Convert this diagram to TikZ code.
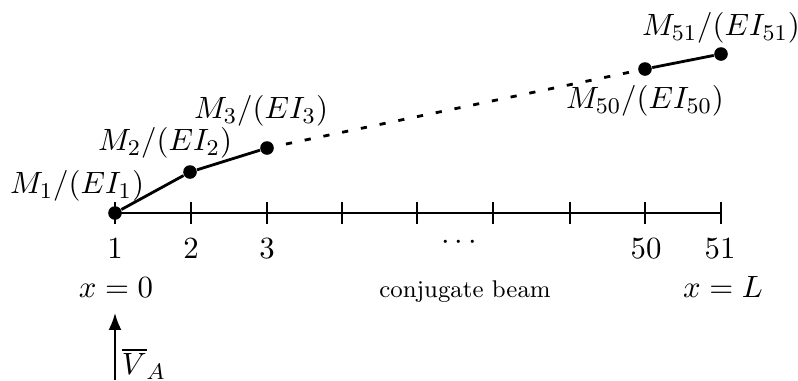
\documentclass[tikz,border=0pt]{standalone}
\usetikzlibrary{arrows.meta}
\begin{document}
\begin{tikzpicture}[x=0.0125cm, y=-0.0125cm,
    dot/.style={circle, fill, minimum size=1.7mm, inner sep=0pt},
    lbl/.style={font=\fontsize{11}{13}\selectfont, inner sep=0pt},
    num/.style={lbl, anchor=base},
    beam/.style={line width=1pt},
    tickmark/.style={line width=1pt},
    gapline/.style={line width=1pt, dash pattern=on 2.2pt off 4.6pt}]
    \useasboundingbox (0,0) rectangle (798,380);
    % beam axis
    \coordinate (t1) at (115,213);
    \coordinate (t2) at (191,213);
    \coordinate (t3) at (267,213);
    \coordinate (t4) at (342,213);
    \coordinate (t5) at (417,213);
    \coordinate (t6) at (493,213);
    \coordinate (t7) at (570,213);
    \coordinate (t8) at (645,213);
    \coordinate (t9) at (721,213);
    \draw[beam] (t1) -- (t9);
    \foreach \t in {t1,t2,t3,t4,t5,t6,t7,t8,t9}
      \draw[tickmark] (\t) +(0,-11) -- +(0,11);
    % M/EI points
    \node[dot] (P1)  at (115,213) {};
    \node[dot] (P2)  at (190,172) {};
    \node[dot] (P3)  at (267,148) {};
    \node[dot] (P50) at (645,69)  {};
    \node[dot] (P51) at (721,54)  {};
    \draw[beam] (P1) -- (P2) -- (P3);
    \draw[gapline, shorten <=1.5mm] (P3) -- (P50);
    \draw[beam] (P50) -- (P51);
    \node[lbl] (m1)  at (77,186)  {$M_1/(EI_1)$};
    \node[lbl] (m2)  at (165,143) {$M_2/(EI_2)$};
    \node[lbl] (m3)  at (261,111) {$M_3/(EI_3)$};
    \node[lbl] (m50) at (645,101) {$M_{50}/(EI_{50})$};
    \node[lbl] (m51) at (721,28)  {$M_{51}/(EI_{51})$};
    % node numbers
    \node[num] (n1)  at (115,258) {$1$};
    \node[num] (n2)  at (191,258) {$2$};
    \node[num] (n3)  at (267,258) {$3$};
    \node[lbl] (nd)  at (459,243) {$\cdots$};
    \node[num] (n50) at (646,258) {$50$};
    \node[num] (n51) at (720,258) {$51$};
    \node[num] (xa)  at (116,297) {$x=0$};
    \node[num] (xb)  at (723,297) {$x=L$};
    \node[anchor=base, font=\fontsize{8.6}{10}\selectfont, inner sep=0pt] (cb) at (465,297) {conjugate beam};
    % reaction
    \coordinate (VAfoot) at (115,380);
    \coordinate (VAhead) at (115,313);
    \draw[line width=0.7pt, -{Latex[length=2.1mm, width=1.6mm]}] (VAfoot) -- (VAhead);
    \node[lbl] (VA) at (144,364) {$\overline{V}_A$};
\end{tikzpicture}
\end{document}
